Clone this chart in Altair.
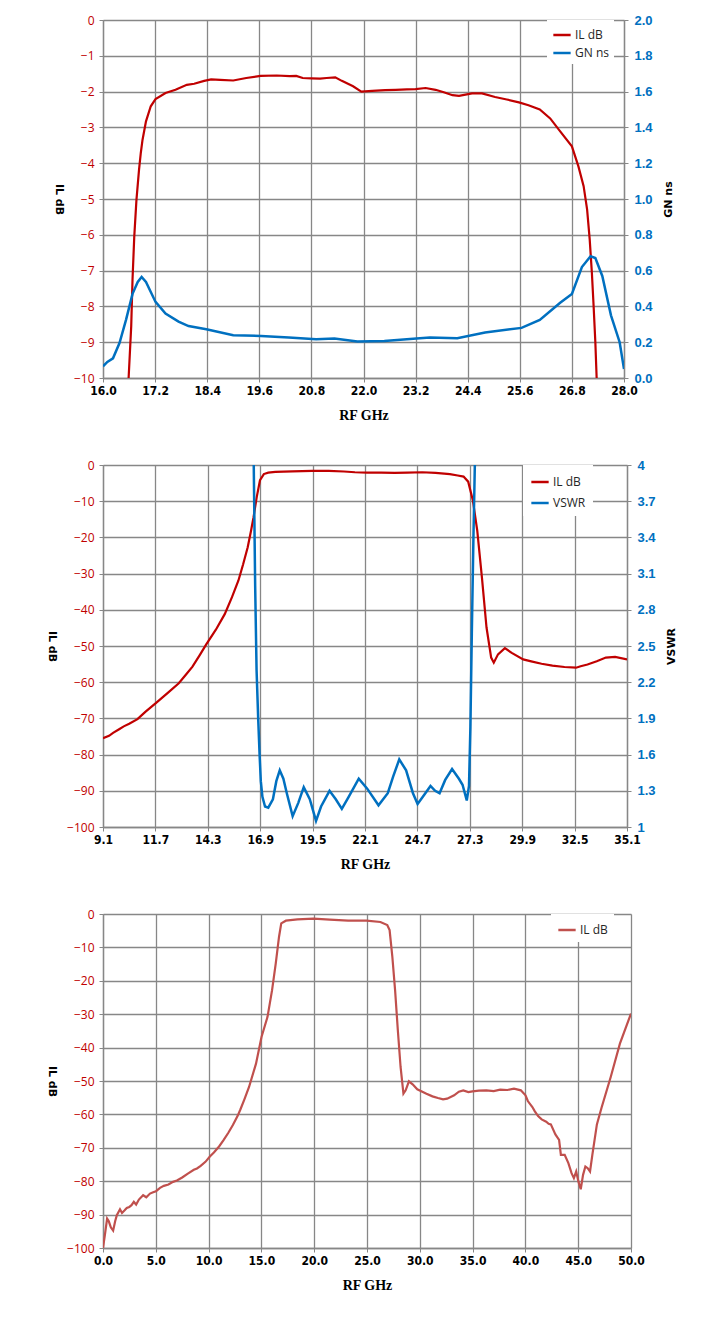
import altair as alt
import pandas as pd

RED = "#C00000"
BLUE = "#0070C0"
RED3 = "#C0504D"
GRID = "#878787"

# ---------------- Chart 1 : IL dB and GN ns, 16-28 GHz ----------------
c1_il_f = [16.57, 16.59, 16.65, 16.68, 16.72, 16.77, 16.83, 16.87, 16.91, 16.99, 17.1,
           17.21, 17.44, 17.67, 17.93, 18.1, 18.33, 18.49, 18.7, 19.0, 19.3, 19.63, 20.0,
           20.3, 20.45, 20.6, 20.8, 21.0, 21.15, 21.35, 21.5, 21.76, 21.95, 22.2, 22.5,
           22.74, 23.0, 23.2, 23.43, 23.66, 23.85, 24.05, 24.2, 24.5, 24.73, 25.03, 25.3,
           25.58, 25.8, 26.06, 26.3, 26.53, 26.8, 26.95, 27.07, 27.15, 27.21, 27.26, 27.3,
           27.34, 27.37, 27.38]
c1_il_db = [-10.5, -10.0, -8.55, -7.25, -6.05, -5.03, -4.18, -3.72, -3.35, -2.83, -2.41,
            -2.21, -2.04, -1.95, -1.81, -1.78, -1.7, -1.66, -1.67, -1.69, -1.62, -1.56,
            -1.55, -1.57, -1.56, -1.62, -1.63, -1.64, -1.62, -1.6, -1.7, -1.85, -2.0, -1.98,
            -1.96, -1.95, -1.94, -1.93, -1.9, -1.95, -2.02, -2.1, -2.12, -2.05, -2.05, -2.15,
            -2.22, -2.3, -2.38, -2.5, -2.75, -3.11, -3.53, -4.09, -4.64, -5.29, -6.13,
            -7.06, -7.99, -9.0, -10.0, -10.5]

c1_gn_f = [16.0, 16.1, 16.23, 16.38, 16.53, 16.68, 16.8, 16.89, 16.99, 17.21, 17.44, 17.74,
           17.97, 18.38, 19.0, 19.64, 20.28, 20.91, 21.33, 21.86, 22.48, 23.22, 23.53,
           24.16, 24.8, 25.64, 26.06, 26.53, 26.8, 27.03, 27.23, 27.34, 27.5, 27.7, 27.9,
           28.0]
c1_gn_ns = [0.065, 0.09, 0.11, 0.195, 0.325, 0.47, 0.537, 0.565, 0.537, 0.425, 0.36, 0.315,
            0.29, 0.272, 0.239, 0.235, 0.226, 0.217, 0.22, 0.204, 0.207, 0.22, 0.226, 0.222,
            0.254, 0.28, 0.324, 0.42, 0.47, 0.62, 0.68, 0.67, 0.57, 0.35, 0.2, 0.05]

c1_xticks = [16.0, 17.2, 18.4, 19.6, 20.8, 22.0, 23.2, 24.4, 25.6, 26.8, 28.0]
c1_yticks = [-10, -9, -8, -7, -6, -5, -4, -3, -2, -1, 0]
c1_rticks = [0.0, 0.2, 0.4, 0.6, 0.8, 1.0, 1.2, 1.4, 1.6, 1.8, 2.0]
c1_names = ["IL dB", "GN ns"]

# ---------------- Chart 2 : IL dB and VSWR, 9.1-35.1 GHz ----------------
c2_il_f = [9.1, 9.4, 9.6, 9.9, 10.13, 10.4, 10.81, 11.2, 11.72, 12.3, 12.86, 13.2, 13.54,
           13.9, 14.23, 14.7, 15.14, 15.5, 15.82, 16.05, 16.28, 16.45, 16.57, 16.73, 16.89,
           17.08, 17.3, 17.65, 18.5, 19.47, 20.3, 21.06, 21.6, 22.2, 22.9, 23.57, 24.2,
           24.94, 25.6, 26.31, 26.7, 26.99, 27.22, 27.45, 27.67, 27.9, 28.13, 28.36, 28.49,
           28.7, 29.04, 29.38, 29.95, 30.4, 30.86, 31.4, 32.0, 32.57, 32.8, 33.14, 33.6,
           34.05, 34.51, 35.1]
c2_il_db = [-75.5, -74.8, -74.0, -73.0, -72.2, -71.5, -70.2, -68.2, -65.8, -63.0, -60.3,
            -58.0, -55.7, -52.5, -49.5, -45.5, -41.2, -36.5, -31.9, -27.5, -22.7, -18.0,
            -14.4, -8.8, -4.2, -2.5, -2.1, -1.9, -1.75, -1.6, -1.65, -1.8, -2.0, -2.1, -2.1,
            -2.2, -2.1, -2.0, -2.2, -2.5, -2.9, -3.2, -4.6, -9.7, -18.1, -31.0, -44.9,
            -53.2, -54.6, -52.3, -50.6, -51.9, -53.7, -54.3, -54.9, -55.4, -55.8, -56.0,
            -55.6, -55.1, -54.2, -53.2, -53.0, -53.7]

c2_vs_f = [16.55, 16.58, 16.65, 16.72, 16.8, 16.87, 16.93, 17.01, 17.14, 17.3, 17.53,
           17.7, 17.87, 18.05, 18.22, 18.51, 18.79, 19.06, 19.36, 19.67, 19.92, 20.34,
           20.65, 20.95, 21.29, 21.79, 22.2, 22.77, 23.23, 23.5, 23.8, 24.14, 24.48, 24.71,
           25.05, 25.35, 25.58, 25.8, 26.08, 26.42, 26.76, 26.94, 27.15, 27.26, 27.33,
           27.4, 27.48, 27.55, 27.6]
c2_vs = [4.5, 4.0, 3.0, 2.3, 1.9, 1.6, 1.38, 1.25, 1.17, 1.16, 1.23, 1.38, 1.47, 1.4,
         1.28, 1.09, 1.2, 1.33, 1.23, 1.05, 1.17, 1.3, 1.23, 1.15, 1.25, 1.4, 1.32, 1.18,
         1.28, 1.42, 1.56, 1.47, 1.28, 1.19, 1.27, 1.34, 1.3, 1.28, 1.39, 1.48, 1.4, 1.35,
         1.22, 1.34, 1.83, 2.6, 3.4, 4.0, 4.5]

c2_xticks = [9.1, 11.7, 14.3, 16.9, 19.5, 22.1, 24.7, 27.3, 29.9, 32.5, 35.1]
c2_yticks = [-100, -90, -80, -70, -60, -50, -40, -30, -20, -10, 0]
c2_rticks = [1, 1.3, 1.6, 1.9, 2.2, 2.5, 2.8, 3.1, 3.4, 3.7, 4]
c2_names = ["IL dB", "VSWR"]

# ---------------- Chart 3 : IL dB, 0-50 GHz ----------------
c3_f = [0.0, 0.17, 0.39, 0.55, 0.74, 0.96, 1.15, 1.31, 1.61, 1.8, 2.05, 2.25, 2.49, 2.7,
        2.92, 3.14, 3.4, 3.8, 4.1, 4.45, 4.75, 5.02, 5.4, 5.76, 6.2, 6.63, 7.0, 7.5, 8.0,
        8.6, 8.9, 9.25, 9.7, 10.12, 10.5, 10.99, 11.4, 11.87, 12.3, 12.74, 13.0, 13.39,
        13.83, 14.49, 15.01, 15.58, 16.01, 16.36, 16.67, 16.88, 17.32, 18.41, 19.94,
        21.47, 23.21, 24.96, 26.27, 26.92, 27.14, 27.4, 27.66, 27.92, 28.18, 28.45,
        28.66, 28.97, 29.32, 29.76, 30.63, 31.2, 31.72, 32.2, 32.59, 33.25, 33.7, 34.12,
        34.6, 34.99, 35.6, 36.3, 37.0, 37.61, 38.3, 38.92, 39.57, 40.01, 40.23, 40.66,
        40.88, 41.2, 41.54, 41.97, 42.2, 42.41, 42.84, 43.19, 43.36, 43.72, 44.07, 44.37,
        44.59, 44.81, 45.03, 45.24, 45.46, 45.68, 45.9, 46.12, 46.34, 46.77, 47.21,
        48.08, 48.95, 50.0]
c3_db = [-100.0, -96.3, -91.2, -92.0, -93.8, -94.8, -92.0, -90.2, -88.4, -89.5, -88.7,
         -88.0, -87.7, -87.2, -86.2, -87.0, -85.5, -84.2, -84.8, -83.7, -83.3, -83.0,
         -82.0, -81.4, -81.0, -80.2, -79.8, -78.9, -77.8, -76.6, -76.2, -75.4, -74.2,
         -72.6, -71.4, -69.6, -67.8, -65.5, -63.2, -60.5, -58.6, -55.5, -51.8, -44.8,
         -36.8, -30.8, -22.8, -14.8, -6.8, -2.8, -2.0, -1.6, -1.4, -1.7, -2.0, -2.0,
         -2.4, -3.3, -4.8, -12.8, -22.8, -34.8, -45.8, -53.8, -52.8, -50.1, -51.0,
         -52.5, -53.8, -54.6, -55.1, -55.5, -55.3, -54.3, -53.2, -52.8, -53.3, -53.1,
         -52.9, -52.8, -53.0, -52.6, -52.7, -52.3, -52.8, -54.3, -56.0, -57.8, -59.0,
         -60.5, -61.5, -62.2, -62.8, -63.0, -66.0, -67.6, -72.1, -72.1, -74.6, -77.6,
         -79.1, -77.1, -80.2, -82.4, -78.1, -75.6, -76.1, -77.1, -72.1, -63.0, -58.0,
         -48.8, -38.8, -29.8]

c3_xticks = [0.0, 5.0, 10.0, 15.0, 20.0, 25.0, 30.0, 35.0, 40.0, 45.0, 50.0]
c3_yticks = [-100, -90, -80, -70, -60, -50, -40, -30, -20, -10, 0]
c3_names = ["IL dB"]

# ---------------- styling helpers ----------------
XLAB_FONT = "DejaVu Sans Condensed, Liberation Sans Narrow, Liberation Sans, sans-serif"
XTITLE_FONT = "Liberation Serif, DejaVu Serif, serif"
YLAB_FONT = "Open Sans, Liberation Sans, sans-serif"


def x_axis(values):
    return alt.Axis(values=values, format=".1f", title="RF GHz", grid=True,
                    gridColor=GRID, gridWidth=1.3, domainColor=GRID, domainWidth=1.3,
                    tickColor=GRID, tickSize=4, labelFont=XLAB_FONT, labelFontSize=12,
                    labelFontWeight="bold", labelColor="black", labelPadding=3,
                    titleFont=XTITLE_FONT, titleFontSize=14, titleFontWeight="bold",
                    titleColor="black", titlePadding=12, labelFlush=False)


def left_axis(values, title):
    return alt.Axis(values=values, format="d", title=title, grid=True, gridColor=GRID,
                    gridWidth=1.3, domainColor=GRID, domainWidth=1.3, tickColor=GRID,
                    tickSize=4, labelFont=YLAB_FONT, labelFontSize=12, labelColor=RED,
                    labelPadding=5, titleFont="DejaVu Sans, sans-serif", titleFontSize=11,
                    titleFontWeight="bold", titleColor="black", titleAngle=90,
                    titleBaseline="top", titlePadding=9)


def right_axis(values, title, fmt):
    return alt.Axis(values=values, format=fmt, title=title, orient="right", grid=False,
                    domainColor=GRID, domainWidth=1.3, tickColor=GRID, tickSize=4,
                    labelFont="Liberation Sans, sans-serif", labelFontSize=13,
                    labelFontWeight="bold", labelColor=BLUE, labelPadding=6,
                    titleFont="DejaVu Sans, sans-serif", titleFontSize=11,
                    titleFontWeight="bold", titleColor="black", titleAngle=270,
                    titleBaseline="top", titlePadding=10)


def color_enc(names, colors, lx, ly, rowpad, pad):
    return alt.Color("series:N",
                     scale=alt.Scale(domain=names, range=colors),
                     legend=alt.Legend(title=None, orient="none", legendX=lx, legendY=ly,
                                       symbolType="stroke", symbolStrokeWidth=2.5,
                                       symbolSize=300, labelFont=YLAB_FONT,
                                       labelFontSize=12, labelColor="#262626",
                                       fillColor="white", padding=pad, rowPadding=rowpad,
                                       labelOffset=3))


# ---------------- chart 1 ----------------
df1a = pd.DataFrame({"f": c1_il_f, "v": c1_il_db, "series": c1_names[0]})
df1b = pd.DataFrame({"f": c1_gn_f, "v": c1_gn_ns, "series": c1_names[1]})
W1, H1 = 521, 358
col1 = color_enc(c1_names, [RED, BLUE], 444, 0, 2, 5)
l1a = alt.Chart(df1a).mark_line(clip=True, strokeWidth=2.2).encode(
    x=alt.X("f:Q", scale=alt.Scale(domain=[16, 28], nice=False), axis=x_axis(c1_xticks)),
    y=alt.Y("v:Q", scale=alt.Scale(domain=[-10, 0], nice=False),
            axis=left_axis(c1_yticks, "IL dB")),
    color=col1)
l1b = alt.Chart(df1b).mark_line(clip=True, strokeWidth=2.5).encode(
    x=alt.X("f:Q", scale=alt.Scale(domain=[16, 28], nice=False)),
    y=alt.Y("v:Q", scale=alt.Scale(domain=[0, 2], nice=False),
            axis=right_axis(c1_rticks, "GN ns", ".1f")),
    color=col1)
ch1 = alt.layer(l1a, l1b).resolve_scale(y="independent").properties(width=W1, height=H1)

# ---------------- chart 2 ----------------
df2a = pd.DataFrame({"f": c2_il_f, "v": c2_il_db, "series": c2_names[0]})
df2b = pd.DataFrame({"f": c2_vs_f, "v": c2_vs, "series": c2_names[1]})
W2, H2 = 524, 362
col2 = color_enc(c2_names, [RED, BLUE], 420, 0, 5, 7)
l2a = alt.Chart(df2a).mark_line(clip=True, strokeWidth=2.2).encode(
    x=alt.X("f:Q", scale=alt.Scale(domain=[9.1, 35.1], nice=False), axis=x_axis(c2_xticks)),
    y=alt.Y("v:Q", scale=alt.Scale(domain=[-100, 0], nice=False),
            axis=left_axis(c2_yticks, "IL dB")),
    color=col2)
l2b = alt.Chart(df2b).mark_line(clip=True, strokeWidth=2.5).encode(
    x=alt.X("f:Q", scale=alt.Scale(domain=[9.1, 35.1], nice=False)),
    y=alt.Y("v:Q", scale=alt.Scale(domain=[1, 4], nice=False),
            axis=right_axis(c2_rticks, "VSWR", "~g")),
    color=col2)
ch2 = alt.layer(l2a, l2b).resolve_scale(y="independent").properties(width=W2, height=H2)

# ---------------- chart 3 ----------------
df3 = pd.DataFrame({"f": c3_f, "v": c3_db, "series": c3_names[0]})
W3, H3 = 528, 334
col3 = color_enc(c3_names, [RED3], 448, 0, 2, 6)
ch3 = alt.Chart(df3).mark_line(clip=True, strokeWidth=2.2).encode(
    x=alt.X("f:Q", scale=alt.Scale(domain=[0, 50], nice=False), axis=x_axis(c3_xticks)),
    y=alt.Y("v:Q", scale=alt.Scale(domain=[-100, 0], nice=False),
            axis=left_axis(c3_yticks, "IL dB")),
    color=col3).properties(width=W3, height=H3)

chart = alt.vconcat(ch1, ch2, ch3, spacing=35).resolve_scale(
    x="independent", y="independent", color="independent"
).resolve_legend(color="independent").properties(
    padding={"left": 38, "top": 5, "right": 5, "bottom": 5}
).configure_view(stroke=GRID, strokeWidth=1.3).configure(background="white")

chart.save("out.html", embed_options={"renderer": "svg", "actions": False})
